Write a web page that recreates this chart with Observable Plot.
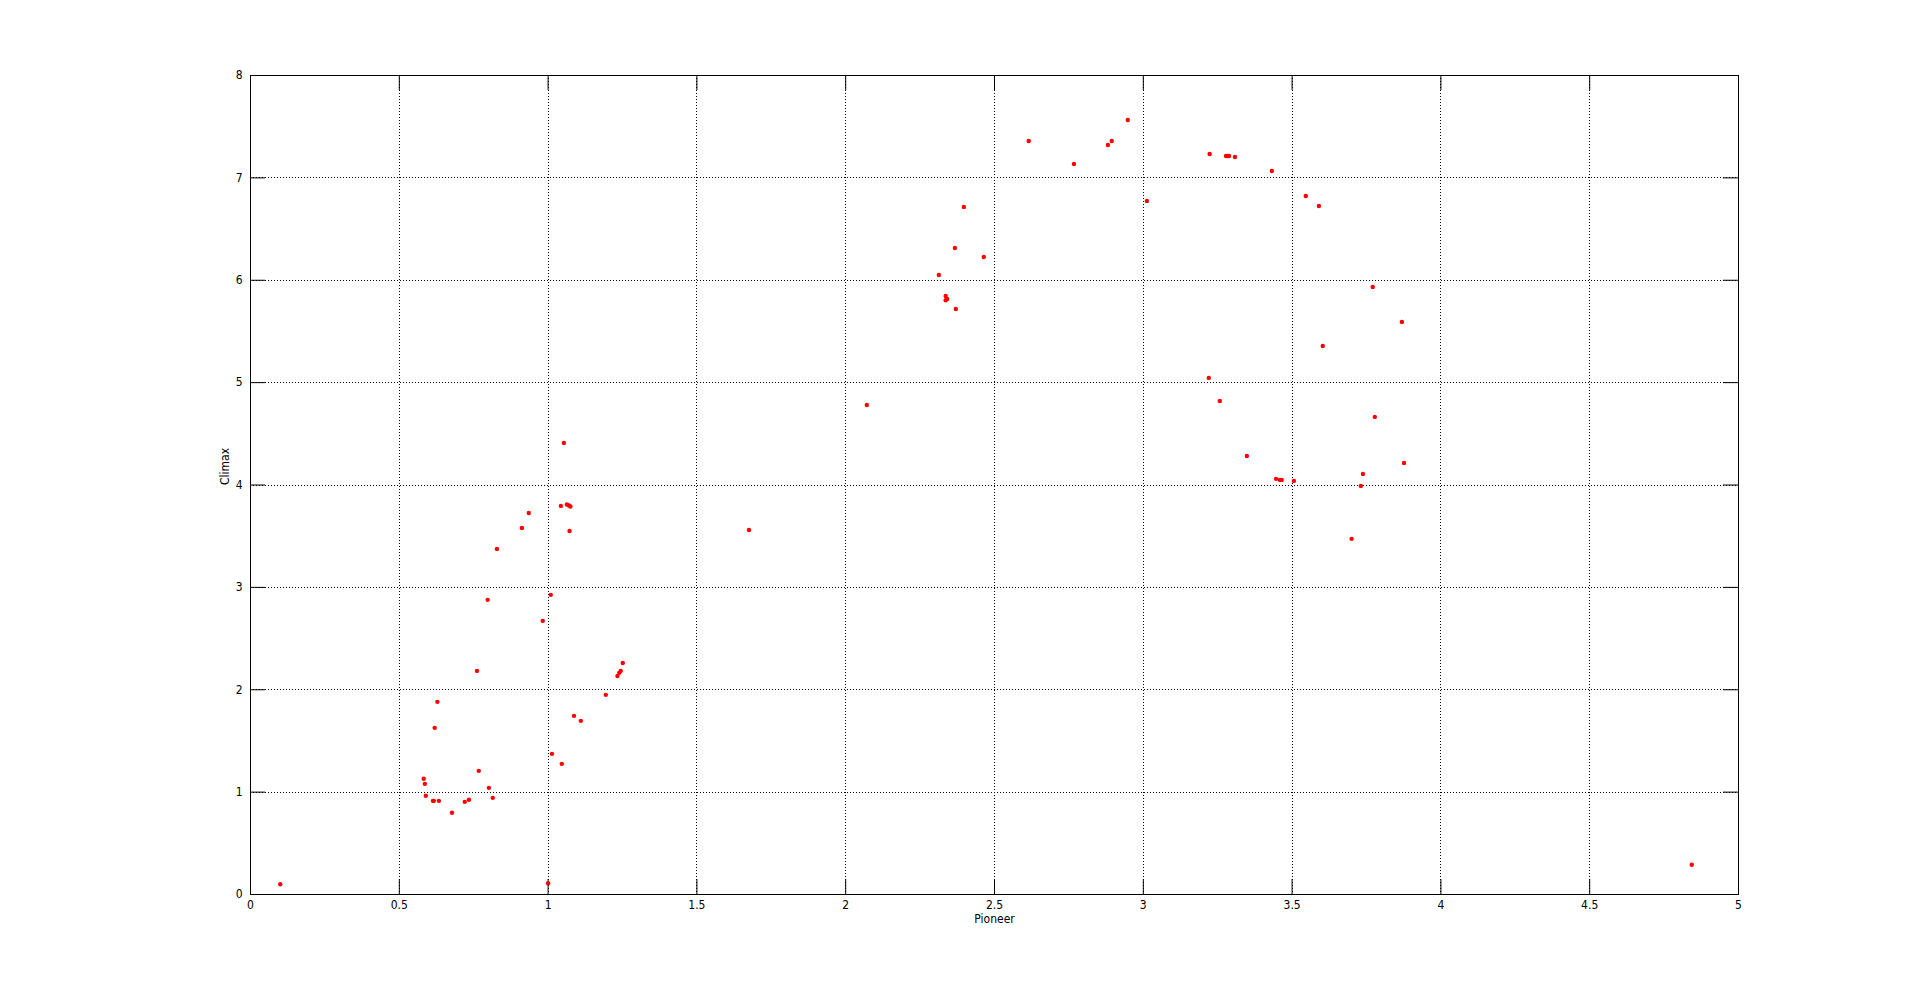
<!DOCTYPE html>
<html><head><meta charset="utf-8">
<script src="https://cdn.jsdelivr.net/npm/d3@7"></script>
<script src="https://cdn.jsdelivr.net/npm/@observablehq/plot@0.6"></script>
<style>html,body{margin:0;padding:0;background:#fff;overflow:hidden}</style>
</head><body><div id="chart"></div>
<script>
const pioneer = [0.100,1.000,0.912,1.072,0.828,0.797,1.009,0.982,0.761,0.628,0.619,0.582,0.586,0.589,0.613,0.616,0.633,0.677,0.720,0.734,0.767,0.801,0.814,1.013,1.046,1.087,1.110,1.194,1.251,1.244,1.239,1.233,1.675,2.071,2.313,2.336,2.341,2.336,2.370,2.367,2.464,2.397,2.615,2.767,2.881,2.894,2.948,3.012,3.223,3.278,3.283,3.288,3.308,3.432,3.546,3.590,3.771,3.869,3.603,3.220,3.257,3.778,3.348,3.876,3.738,3.731,3.446,3.459,3.465,3.506,3.700,1.053,0.935,1.043,1.063,1.070,1.075,4.843];
const climax = [0.100,0.110,3.580,3.550,3.376,2.878,2.927,2.673,2.184,1.882,1.628,1.130,1.081,0.964,0.915,0.915,0.915,0.798,0.905,0.925,1.208,1.042,0.944,1.374,1.276,1.745,1.696,1.950,2.262,2.184,2.165,2.135,3.561,4.782,6.052,5.846,5.817,5.804,5.719,6.315,6.227,6.716,7.360,7.136,7.321,7.360,7.565,6.774,7.233,7.214,7.214,7.214,7.204,7.067,6.823,6.726,5.934,5.593,5.358,5.046,4.821,4.665,4.284,4.215,4.108,3.991,4.060,4.050,4.050,4.040,3.474,4.411,3.727,3.796,3.810,3.800,3.790,0.290];
const xTicks = [0,0.5,1,1.5,2,2.5,3,3.5,4,4.5,5];
const yTicks = [0,1,2,3,4,5,6,7,8];
const xLabel = "Pioneer";
const yLabel = "Climax";

const points = pioneer.map((x, i) => ({x, y: climax[i]}));
const W = 1920, H = 1004, mL = 250, mR = 182, mT = 75, mB = 110;
const plotW = W - mL - mR, plotH = H - mT - mB;
const tick = 15;
const font = '"Liberation Sans Narrow", "DejaVu Sans Condensed", "Liberation Sans", Arial, sans-serif';

const chart = Plot.plot({
  width: W, height: H,
  marginLeft: mL, marginRight: mR, marginTop: mT, marginBottom: mB,
  x: {domain: [0, 5]},
  y: {domain: [0, 8]},
  style: {fontFamily: font, fontSize: "12px", background: "#fff", color: "#000"},
  marks: [
    Plot.gridX(xTicks.slice(1, -1), {stroke: "#000", strokeOpacity: 1, strokeDasharray: "1,2", shapeRendering: "crispEdges"}),
    Plot.gridY(yTicks.slice(1, -1), {stroke: "#000", strokeOpacity: 1, strokeDasharray: "1,2", shapeRendering: "crispEdges"}),
    Plot.tickX(xTicks, {x: d => d, insetTop: plotH - tick, stroke: "#000"}),
    Plot.tickX(xTicks, {x: d => d, insetBottom: plotH - tick, stroke: "#000"}),
    Plot.tickY(yTicks, {y: d => d, insetRight: plotW - tick, stroke: "#000"}),
    Plot.tickY(yTicks, {y: d => d, insetLeft: plotW - tick, stroke: "#000"}),
    Plot.frame({stroke: "#000"}),
    Plot.axisX(xTicks, {tickSize: 0, tickPadding: 6, tickFormat: d => String(d), label: null}),
    Plot.axisY(yTicks, {tickSize: 0, tickPadding: 8, tickFormat: d => String(d), label: null}),
    Plot.text([xLabel], {text: d => d, frameAnchor: "bottom", dy: 28}),
    Plot.text([yLabel], {text: d => d, frameAnchor: "left", rotate: -90, dx: -25}),
    Plot.dot(points, {x: "x", y: "y", r: 2.2, fill: "#f00", stroke: null})
  ]
});
document.getElementById("chart").appendChild(chart);
</script>
</body></html>
